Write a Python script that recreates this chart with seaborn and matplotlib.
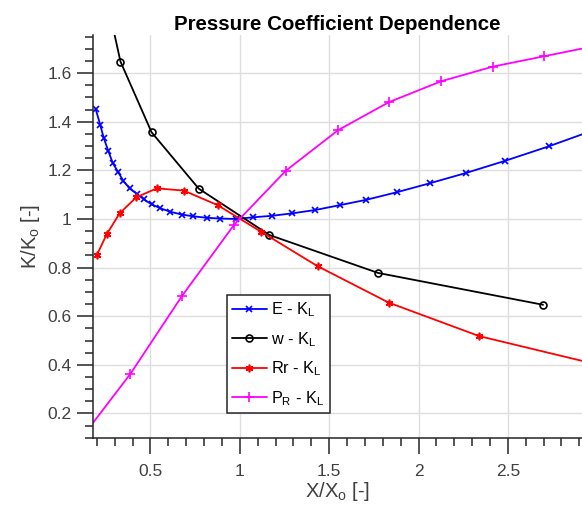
import numpy as np
import pandas as pd
import seaborn as sns
import matplotlib.pyplot as plt
from matplotlib.ticker import MultipleLocator

# values
e_x = [0.193, 0.219, 0.239, 0.264, 0.289, 0.320, 0.349, 0.383, 0.424, 0.463,
       0.507, 0.556, 0.610, 0.677, 0.740, 0.815, 0.891, 0.979, 1.075, 1.178,
       1.291, 1.422, 1.560, 1.708, 1.878, 2.063, 2.264, 2.483, 2.729, 2.990]
e_y = [1.453, 1.387, 1.332, 1.280, 1.230, 1.192, 1.156, 1.126, 1.103, 1.081,
       1.060, 1.044, 1.030, 1.018, 1.011, 1.005, 1.002, 1.000, 1.007, 1.013,
       1.023, 1.037, 1.057, 1.079, 1.110, 1.147, 1.189, 1.239, 1.299, 1.368]

w_x = [0.218, 0.332, 0.506, 0.770, 1.166, 1.774, 2.697]
w_y = [2.030, 1.648, 1.357, 1.125, 0.934, 0.778, 0.647]

rr_x = [0.199, 0.255, 0.327, 0.420, 0.535, 0.686, 0.876, 1.118, 1.435, 1.833, 2.340, 2.990]
rr_y = [0.850, 0.937, 1.023, 1.089, 1.126, 1.117, 1.057, 0.948, 0.806, 0.656, 0.518, 0.403]

pr_x = [0.099, 0.388, 0.677, 0.969, 1.258, 1.551, 1.835, 2.128, 2.416, 2.705, 2.995]
pr_y = [0.085, 0.363, 0.684, 0.977, 1.199, 1.366, 1.481, 1.567, 1.627, 1.670, 1.713]

labels = [r'E - K$_\mathregular{L}$', r'w - K$_\mathregular{L}$',
          r'Rr - K$_\mathregular{L}$', r'P$_\mathregular{R}$ - K$_\mathregular{L}$']

sns.set_style('white')
plt.rcParams['font.family'] = ['Liberation Sans', 'DejaVu Sans']
axc = '#262626'
txc = '#404040'

fig = plt.figure(figsize=(5.82, 5.12), dpi=100)
ax = fig.add_axes([0.1603, 0.1451, 0.8397, 0.7860])

series = [
    (e_x, e_y, 'x', 'blue', 'none', 4.5),
    (w_x, w_y, 'o', 'black', 'none', 5),
    (rr_x, rr_y, (6, 2, 0), 'red', 'red', 5.5),
    (pr_x, pr_y, '+', 'magenta', 'none', 6.5),
]
for (xs, ys, mk, col, fc, ms), lab in zip(series, labels):
    df = pd.DataFrame({'x': xs, 'y': ys})
    sns.lineplot(data=df, x='x', y='y', ax=ax, sort=False, color=col, lw=1.3,
                 marker=mk, markersize=ms, markerfacecolor=fc,
                 markeredgecolor=col, markeredgewidth=1.2, label=lab)

ax.set_xlim(0.18, 2.915)
ax.set_ylim(0.10, 1.756)
ax.xaxis.set_minor_locator(MultipleLocator(0.1))
ax.yaxis.set_minor_locator(MultipleLocator(0.05))
ax.set_xticks([0.5, 1, 1.5, 2, 2.5])
ax.set_xticklabels(['0.5', '1', '1.5', '2', '2.5'])
ax.set_yticks([0.2, 0.4, 0.6, 0.8, 1, 1.2, 1.4, 1.6])
ax.set_yticklabels(['0.2', '0.4', '0.6', '0.8', '1', '1.2', '1.4', '1.6'])

ax.grid(True, which='major', color='#dedede', lw=1.0)
ax.set_axisbelow(True)
for s in ['top', 'right']:
    ax.spines[s].set_visible(False)
for s in ['left', 'bottom']:
    ax.spines[s].set_color(axc)
    ax.spines[s].set_linewidth(1.1)
ax.tick_params(which='both', bottom=True, left=True, top=False, right=False)
ax.tick_params(which='major', direction='out', length=11.5, width=1.1,
               color=axc, labelcolor=txc, labelsize=12.5, pad=4)
ax.tick_params(which='minor', direction='out', length=5.8, width=1.1, color=axc)
ax.tick_params(axis='x', which='major', pad=7.5)

ax.set_title('Pressure Coefficient Dependence', fontsize=14.8, fontweight='bold',
             color='black', pad=4)
ax.set_xlabel(r'X/X$_\mathregular{o}$ [-]', fontsize=14.5, color=txc, labelpad=1)
ax.set_ylabel(r'K/K$_\mathregular{o}$ [-]', fontsize=14.5, color=txc, labelpad=4)

leg = ax.legend(loc='upper left', bbox_to_anchor=(0.273, 0.3546), fontsize=11.7,
                frameon=True, fancybox=False, framealpha=1, edgecolor=axc,
                handlelength=2.1, borderpad=0.35, labelspacing=0.66,
                handletextpad=0.3, borderaxespad=0, numpoints=1)
leg.get_frame().set_linewidth(1.1)
for t in leg.get_texts():
    t.set_color('black')

fig.savefig('out.png', dpi=100)
